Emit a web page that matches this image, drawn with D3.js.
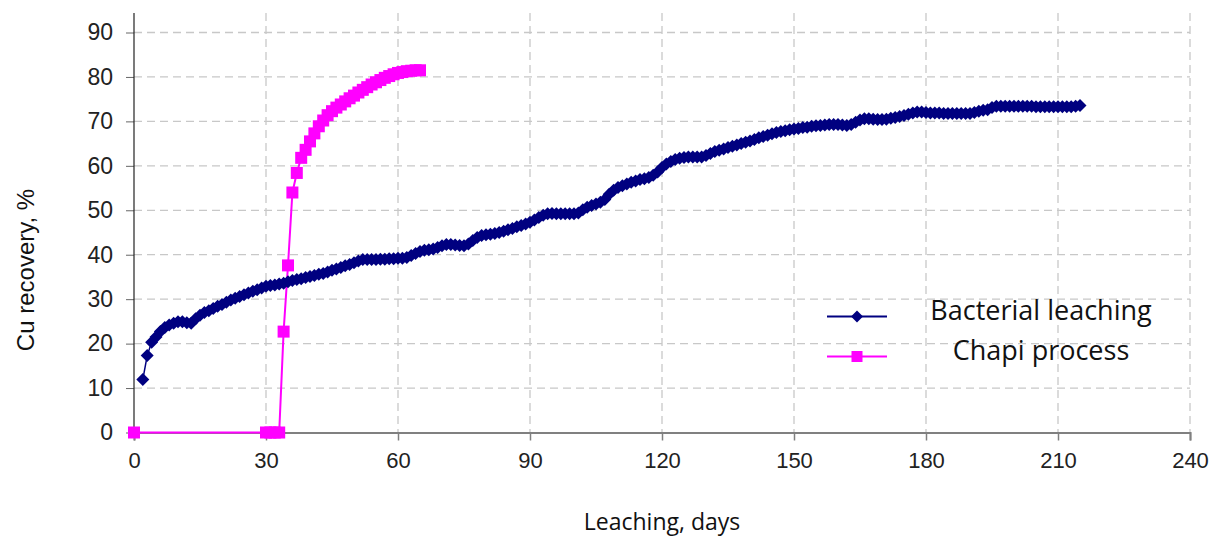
<!DOCTYPE html>
<html>
<head>
<meta charset="utf-8">
<script src="https://cdn.jsdelivr.net/npm/d3@7"></script>
<style>
  html, body { margin: 0; padding: 0; background: #fff; }
  svg { display: block; }
</style>
</head>
<body>
<svg id="chart" width="1225" height="539"></svg>
<script>
// ---------------- DATA ----------------
const xTicks = [0, 30, 60, 90, 120, 150, 180, 210, 240];
const yTicks = [0, 10, 20, 30, 40, 50, 60, 70, 80, 90];
const seriesNames = ["Bacterial leaching", "Chapi process"];

// Bacterial leaching: day, Cu recovery %
const bactDays = [];
for (let d = 2; d <= 215; d++) bactDays.push(d);
const bactValues = [
  11.9, 17.3, 20.3, 21.5, 22.7, 23.6, 24.2, 24.6, 24.9, 24.9,   // 2-11
  24.7, 24.6, 25.6, 26.4, 27.0, 27.4, 27.9, 28.4, 28.8, 29.3,   // 12-21
  29.8, 30.2, 30.6, 31.0, 31.4, 31.8, 32.1, 32.5, 32.9, 33.1,   // 22-31
  33.2, 33.4, 33.6, 33.9, 34.2, 34.4, 34.6, 34.9, 35.1, 35.3,   // 32-41
  35.6, 35.8, 36.1, 36.5, 36.8, 37.1, 37.5, 37.8, 38.2, 38.6,   // 42-51
  38.9, 38.9, 38.9, 38.9, 39.0, 39.0, 39.1, 39.1, 39.2, 39.2,   // 52-61
  39.4, 39.8, 40.3, 40.7, 41.0, 41.1, 41.3, 41.6, 42.0, 42.3,   // 62-71
  42.3, 42.2, 42.1, 42.0, 42.4, 43.2, 43.9, 44.3, 44.5, 44.6,   // 72-81
  44.8, 45.0, 45.3, 45.6, 45.9, 46.3, 46.6, 46.9, 47.3, 47.8,   // 82-91
  48.4, 48.9, 49.2, 49.3, 49.2, 49.2, 49.2, 49.2, 49.2, 49.4,   // 92-101
  50.1, 50.7, 51.1, 51.4, 51.8, 52.4, 53.6, 54.5, 55.1, 55.5,   // 102-111
  55.9, 56.3, 56.6, 56.9, 57.1, 57.4, 57.9, 58.6, 59.6, 60.4,   // 112-121
  61.0, 61.4, 61.7, 61.9, 62.0, 62.0, 62.0, 62.0, 62.3, 62.8,   // 122-131
  63.2, 63.5, 63.8, 64.1, 64.4, 64.7, 65.0, 65.3, 65.6, 65.9,   // 132-141
  66.3, 66.6, 66.9, 67.2, 67.5, 67.7, 67.9, 68.1, 68.3, 68.4,   // 142-151
  68.6, 68.7, 68.9, 69.0, 69.1, 69.2, 69.3, 69.3, 69.3, 69.2,   // 152-161
  69.1, 69.3, 69.8, 70.3, 70.6, 70.6, 70.5, 70.4, 70.4, 70.5,   // 162-171
  70.7, 70.9, 71.1, 71.3, 71.6, 71.9, 72.1, 72.1, 72.0, 71.9,   // 172-181
  71.9, 71.9, 71.8, 71.8, 71.8, 71.8, 71.8, 71.8, 71.8, 72.0,   // 182-191
  72.3, 72.5, 72.6, 73.1, 73.4, 73.4, 73.4, 73.4, 73.4, 73.4,   // 192-201
  73.4, 73.4, 73.4, 73.3, 73.3, 73.3, 73.3, 73.3, 73.3, 73.3,   // 202-211
  73.3, 73.3, 73.4, 73.6                                         // 212-215
];

// Chapi process: day, Cu recovery %
const chapiDays = [0, 30, 31, 32, 33, 34, 35, 36, 37, 38, 39, 40, 41, 42, 43, 44, 45, 46, 47, 48, 49,
  50, 51, 52, 53, 54, 55, 56, 57, 58, 59, 60, 61, 62, 63, 64, 65];
const chapiValues = [0, 0, 0, 0, 0, 22.7, 37.6, 54.0, 58.4, 61.8, 63.6, 65.5, 67.3, 68.9, 70.2, 71.4, 72.3, 73.1, 73.8, 74.5, 75.2,
  75.8, 76.5, 77.1, 77.7, 78.3, 78.8, 79.3, 79.8, 80.2, 80.6, 80.9, 81.1, 81.3, 81.4, 81.5, 81.5];

const xLabel = "Leaching, days";
const yLabel = "Cu recovery, %";

// ---------------- LAYOUT ----------------
const svg = d3.select("#chart");
const x = d3.scaleLinear().domain([0, 240]).range([134, 1190]);
const y = d3.scaleLinear().domain([0, 90]).range([432.5, 32.5]);
const plotTop = 13;

const BLUE = "#000080", PINK = "#FF00FF";
const gridColor = "#c8c8c8";

// horizontal grid
svg.append("g").selectAll("line").data(yTicks.filter(v => v > 0)).join("line")
  .attr("x1", x(0)).attr("x2", x(240))
  .attr("y1", d => y(d)).attr("y2", d => y(d))
  .attr("stroke", gridColor).attr("stroke-width", 1.3).attr("stroke-dasharray", "8,5");
// vertical grid
svg.append("g").selectAll("line").data(xTicks.filter(v => v > 0)).join("line")
  .attr("x1", d => x(d)).attr("x2", d => x(d))
  .attr("y1", plotTop).attr("y2", y(0))
  .attr("stroke", gridColor).attr("stroke-width", 1.3).attr("stroke-dasharray", "8,5");

// X axis
const xAxis = d3.axisBottom(x).tickValues(xTicks).tickSize(8).tickPadding(12).tickFormat(d3.format("d"));
const gx = svg.append("g").attr("transform", `translate(0,${y(0)})`).call(xAxis);
gx.select(".domain").attr("stroke", "#808080").attr("stroke-width", 2);
gx.selectAll(".tick line").attr("stroke", "#808080").attr("stroke-width", 1.5);
gx.selectAll(".tick text").attr("font-family", "'Liberation Sans', Arial, sans-serif")
  .attr("font-size", 22).attr("fill", "#222");

// Y axis
const yAxis = d3.axisLeft(y).tickValues(yTicks).tickSize(8).tickPadding(13).tickFormat(d3.format("d"));
const gy = svg.append("g").attr("transform", `translate(${x(0)},0)`).call(yAxis);
gy.select(".domain").remove();
gy.append("line").attr("x1", 0).attr("x2", 0).attr("y1", plotTop).attr("y2", y(0))
  .attr("stroke", "#222").attr("stroke-width", 1.2);
gy.selectAll(".tick line").attr("stroke", "#666").attr("stroke-width", 1);
gy.selectAll(".tick text").attr("font-family", "'Liberation Sans', Arial, sans-serif")
  .attr("font-size", 23).attr("fill", "#222");

// Titles
svg.append("text").attr("transform", `translate(34,270) rotate(-90)`)
  .attr("text-anchor", "middle").attr("font-family", "'Liberation Sans', Arial, sans-serif")
  .attr("font-size", 24).attr("fill", "#111").text(yLabel);
svg.append("text").attr("x", 662).attr("y", 530)
  .attr("text-anchor", "middle").attr("font-family", "'Open Sans', sans-serif")
  .attr("font-size", 23).attr("fill", "#111").text(xLabel);

// ---------------- SERIES ----------------
const chapi = chapiDays.map((d, i) => [d, chapiValues[i]]);
const bact = bactDays.map((d, i) => [d, bactValues[i]]);
const line = d3.line().x(d => x(d[0])).y(d => y(d[1]));

const diamond = "M0,-6.5L6.5,0L0,6.5L-6.5,0Z";
const sq = 12;

// Chapi (drawn first, below)
svg.append("path").datum(chapi).attr("d", line).attr("fill", "none")
  .attr("stroke", PINK).attr("stroke-width", 2);
svg.append("g").selectAll("rect").data(chapi).join("rect")
  .attr("x", d => x(d[0]) - sq / 2).attr("y", d => y(d[1]) - sq / 2)
  .attr("width", sq).attr("height", sq).attr("fill", PINK);

// Bacterial
svg.append("path").datum(bact).attr("d", line).attr("fill", "none")
  .attr("stroke", BLUE).attr("stroke-width", 1.5);
svg.append("g").selectAll("path").data(bact).join("path")
  .attr("transform", d => `translate(${x(d[0])},${y(d[1])})`)
  .attr("d", diamond).attr("fill", BLUE);

// ---------------- LEGEND ----------------
const leg = svg.append("g");
const legItems = [
  { name: seriesNames[0], color: BLUE, ly: 316.5, ty: 320, shape: "diamond" },
  { name: seriesNames[1], color: PINK, ly: 356.5, ty: 360, shape: "square" }
];
legItems.forEach(it => {
  leg.append("line").attr("x1", 827).attr("x2", 887).attr("y1", it.ly).attr("y2", it.ly)
    .attr("stroke", it.color).attr("stroke-width", 2);
  if (it.shape === "diamond") {
    leg.append("path").attr("transform", `translate(857,${it.ly})`).attr("d", "M0,-6L6,0L0,6L-6,0Z").attr("fill", it.color);
  } else {
    leg.append("rect").attr("x", 857 - 5.5).attr("y", it.ly - 5.5).attr("width", 11).attr("height", 11).attr("fill", it.color);
  }
  leg.append("text").attr("x", 1041).attr("y", it.ty).attr("text-anchor", "middle")
    .attr("font-family", "'Open Sans', sans-serif").attr("font-size", 27).attr("fill", "#111")
    .text(it.name);
});
</script>
</body>
</html>
